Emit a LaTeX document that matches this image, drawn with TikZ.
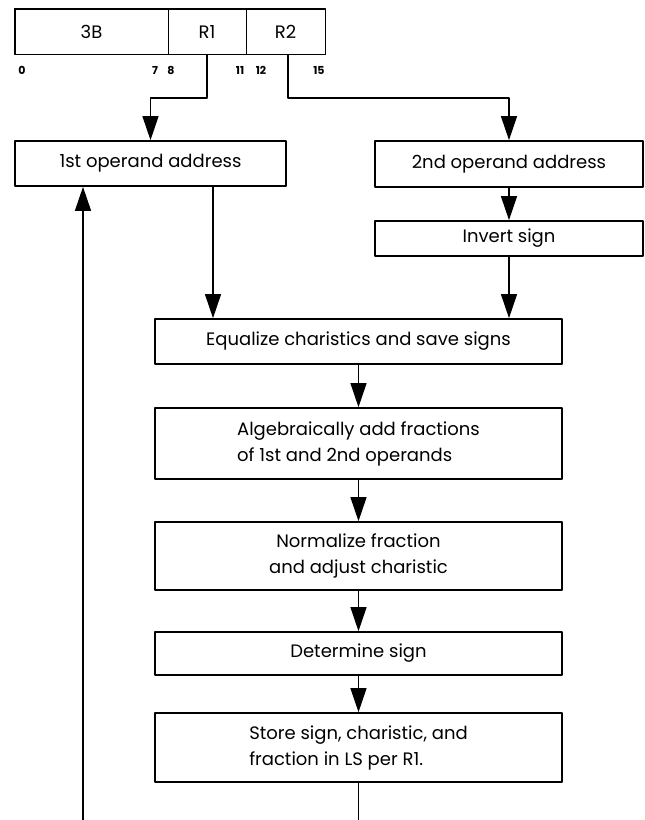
\documentclass[tikz,border=0pt]{standalone}
\usepackage{fontspec}
\setmainfont{Poppins}
\usetikzlibrary{positioning,calc,arrows.meta}

\begin{document}
\begin{tikzpicture}[x=1pt, y=-1pt, line cap=round, line join=round,
		font=\fontsize{18}{26}\selectfont]
	\useasboundingbox (0,0) rectangle (645,820);
	% ---- styles ----
	\tikzset{box/.style={draw, line width=1.7pt, rectangle, inner sep=0pt, align=center},
		field/.style={draw, line width=1pt, rectangle, inner sep=0pt, minimum height=45pt},
		bit/.style={font=\fontsize{11}{12}\selectfont\bfseries, inner sep=0pt},
		arr/.style={line width=1.2pt, -{Triangle[length=24pt,width=16pt]}}}
	
	% ---- instruction format ----
	\node[field, minimum width=153pt] (f3B) at (91.5,31.5) {3B};
	\node[field, minimum width=78pt]  (fR1) at (207,31.5)  {R1};
	\node[field, minimum width=79pt]  (fR2) at (285.5,31.5) {R2};
	\draw[line width=1.8pt] (f3B.north west) rectangle (fR2.south east);
	
	\foreach \x/\b in {22/0, 155/7, 171/8, 240/11, 261/12, 319/15}
		\node[bit] (b\b) at (\x,70) {\b};
	
	% ---- flow boxes ----
	\node[box, minimum width=271pt, minimum height=45pt] (op1) at (150.5,163.5) {1st operand address};
	\node[box, minimum width=268pt, minimum height=46pt] (op2) at (509,164)   {2nd operand address};
	\node[box, minimum width=268pt, minimum height=35pt] (inv) at (509,238.5) {Invert sign};
	
	\node[box, minimum width=407pt, minimum height=45pt] (eqz) at (358.5,341.5) {Equalize charistics and save signs};
	\node[box, minimum width=407pt, minimum height=71pt, align=left] (alg) at (358.5,443.5)
		{Algebraically add fractions\\of 1st and 2nd operands};
	\node[box, minimum width=407pt, minimum height=68pt] (nrm) at (358.5,556)
		{Normalize fraction\\and adjust charistic};
	\node[box, minimum width=407pt, minimum height=43pt] (det) at (358.5,653.5) {Determine sign};
	\node[box, minimum width=407pt, minimum height=69pt, align=left] (sto) at (358.5,747.5)
		{Store sign, charistic, and\\fraction in LS per R1.};
	
	% ---- connectors ----
	\coordinate (r1bend) at (207,98);
	\coordinate (r2bend) at (288,98);
	\coordinate (tap1) at (213,0);
	\coordinate (loopR) at (358.5,820);
	\coordinate (loopL) at (83,820);
	
	\draw[arr] (fR1.south) -- (r1bend) -| (op1.north);
	\draw[arr] (r2bend |- fR2.south) -- (r2bend) -| (op2.north);
	\draw[arr] (op2.south) -- (inv.north);
	\draw[arr] (inv.south) -- (inv.south |- eqz.north);
	\draw[arr] (op1.south -| tap1) -- (tap1 |- eqz.north);
	
	\foreach \a/\b in {eqz/alg, alg/nrm, nrm/det, det/sto}
		\draw[arr] (\a.south) -- (\b.north);
	
	% ---- return path (runs off the page) ----
	\draw[line width=1.2pt] (sto.south) -- (loopR);
	\draw[arr] (loopL) -- (loopL |- op1.south);
\end{tikzpicture}
\end{document}
